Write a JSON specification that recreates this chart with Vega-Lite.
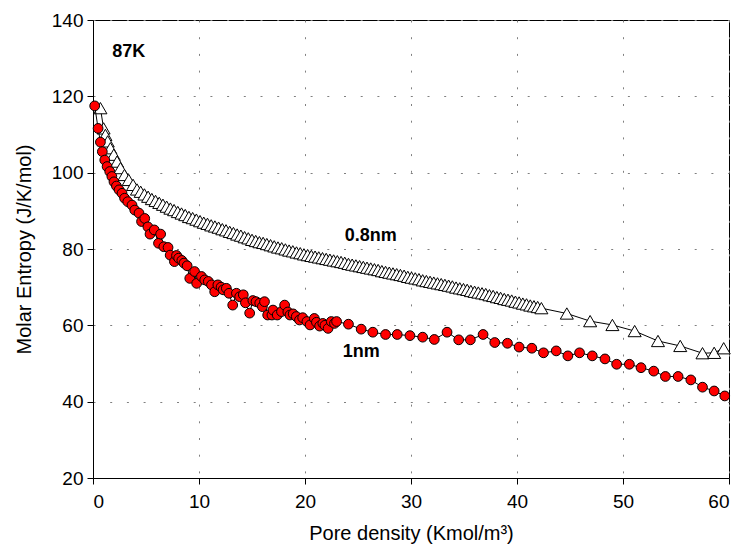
{
  "$schema": "https://vega.github.io/schema/vega-lite/v6.json",
  "width": 636,
  "height": 458,
  "autosize": {"type": "none"},
  "padding": {"left": 93, "top": 20, "right": 10, "bottom": 71},
  "background": "white",
  "config": {
    "font": "Liberation Sans",
    "view": {"stroke": "black", "strokeWidth": 1},
    "axis": {
      "domainColor": "black",
      "tickColor": "black",
      "labelColor": "black",
      "titleColor": "black",
      "labelFont": "Liberation Sans",
      "titleFont": "Liberation Sans",
      "labelFontSize": 19,
      "titleFontSize": 20,
      "titleFontWeight": "normal",
      "tickSize": 6,
      "gridColor": "#808080",
      "gridDash": [2, 14.7],
      "gridWidth": 1
    }
  },
  "datasets": {
    "tri": [
      {"x": 0.7, "y": 116.9}, {"x": 1.0, "y": 111.6}, {"x": 1.17, "y": 109.9}, {"x": 1.39, "y": 108.2}, {"x": 1.64, "y": 106.4},
      {"x": 1.96, "y": 104.7}, {"x": 2.27, "y": 102.9}, {"x": 2.59, "y": 101.2}, {"x": 2.97, "y": 99.4}, {"x": 3.37, "y": 98.1},
      {"x": 3.78, "y": 96.8}, {"x": 4.15, "y": 95.6}, {"x": 4.5, "y": 95.0}, {"x": 4.85, "y": 94.3}, {"x": 5.2, "y": 93.7},
      {"x": 5.55, "y": 93.1}, {"x": 5.9, "y": 92.6}, {"x": 6.25, "y": 92.1}, {"x": 6.6, "y": 91.6}, {"x": 6.95, "y": 91.1},
      {"x": 7.3, "y": 90.6}, {"x": 7.65, "y": 90.2}, {"x": 8.0, "y": 89.7}, {"x": 8.35, "y": 89.3}, {"x": 8.7, "y": 88.9},
      {"x": 9.05, "y": 88.4}, {"x": 9.4, "y": 88.1}, {"x": 9.75, "y": 87.7}, {"x": 10.1, "y": 87.3}, {"x": 10.45, "y": 86.9},
      {"x": 10.8, "y": 86.6}, {"x": 11.15, "y": 86.2}, {"x": 11.5, "y": 85.9}, {"x": 11.85, "y": 85.6}, {"x": 12.2, "y": 85.2},
      {"x": 12.55, "y": 84.9}, {"x": 12.9, "y": 84.5}, {"x": 13.25, "y": 84.2}, {"x": 13.6, "y": 83.8}, {"x": 13.95, "y": 83.5},
      {"x": 14.3, "y": 83.1}, {"x": 14.65, "y": 82.8}, {"x": 15.0, "y": 82.4}, {"x": 15.35, "y": 82.1}, {"x": 15.7, "y": 81.8},
      {"x": 16.05, "y": 81.6}, {"x": 16.4, "y": 81.3}, {"x": 16.75, "y": 81.0}, {"x": 17.1, "y": 80.7}, {"x": 17.45, "y": 80.4},
      {"x": 17.8, "y": 80.2}, {"x": 18.15, "y": 79.9}, {"x": 18.5, "y": 79.6}, {"x": 18.85, "y": 79.4}, {"x": 19.2, "y": 79.1},
      {"x": 19.55, "y": 78.9}, {"x": 19.9, "y": 78.6}, {"x": 20.25, "y": 78.4}, {"x": 20.6, "y": 78.2}, {"x": 20.95, "y": 78.0},
      {"x": 21.3, "y": 77.8}, {"x": 21.65, "y": 77.6}, {"x": 22.0, "y": 77.4}, {"x": 22.35, "y": 77.2}, {"x": 22.7, "y": 77.0},
      {"x": 23.05, "y": 76.8}, {"x": 23.4, "y": 76.6}, {"x": 23.75, "y": 76.4}, {"x": 24.1, "y": 76.1}, {"x": 24.45, "y": 75.9},
      {"x": 24.8, "y": 75.7}, {"x": 25.15, "y": 75.5}, {"x": 25.5, "y": 75.3}, {"x": 25.85, "y": 75.1}, {"x": 26.2, "y": 74.9},
      {"x": 26.55, "y": 74.7}, {"x": 26.9, "y": 74.5}, {"x": 27.25, "y": 74.2}, {"x": 27.6, "y": 74.0}, {"x": 27.95, "y": 73.8},
      {"x": 28.3, "y": 73.6}, {"x": 28.65, "y": 73.4}, {"x": 29.0, "y": 73.2}, {"x": 29.35, "y": 73.0}, {"x": 29.7, "y": 72.7},
      {"x": 30.05, "y": 72.5}, {"x": 30.4, "y": 72.3}, {"x": 30.75, "y": 72.1}, {"x": 31.1, "y": 71.8}, {"x": 31.45, "y": 71.6},
      {"x": 31.8, "y": 71.4}, {"x": 32.15, "y": 71.2}, {"x": 32.5, "y": 71.0}, {"x": 32.85, "y": 70.8}, {"x": 33.2, "y": 70.6},
      {"x": 33.55, "y": 70.4}, {"x": 33.9, "y": 70.2}, {"x": 34.25, "y": 69.9}, {"x": 34.6, "y": 69.7}, {"x": 34.95, "y": 69.5},
      {"x": 35.3, "y": 69.3}, {"x": 35.65, "y": 69.0}, {"x": 36.0, "y": 68.8}, {"x": 36.35, "y": 68.6}, {"x": 36.7, "y": 68.4},
      {"x": 37.05, "y": 68.2}, {"x": 37.4, "y": 67.9}, {"x": 37.75, "y": 67.7}, {"x": 38.1, "y": 67.4}, {"x": 38.45, "y": 67.2},
      {"x": 38.8, "y": 66.9}, {"x": 39.15, "y": 66.7}, {"x": 39.5, "y": 66.5}, {"x": 39.85, "y": 66.2}, {"x": 40.2, "y": 66.0},
      {"x": 40.55, "y": 65.7}, {"x": 40.9, "y": 65.5}, {"x": 41.25, "y": 65.2}, {"x": 41.6, "y": 65.0}, {"x": 41.95, "y": 64.8},
      {"x": 42.3, "y": 64.5}, {"x": 44.7, "y": 63.1}, {"x": 46.9, "y": 61.1}, {"x": 49.0, "y": 60.1}, {"x": 51.1, "y": 58.5},
      {"x": 53.3, "y": 55.9}, {"x": 55.4, "y": 54.6}, {"x": 57.5, "y": 52.7}, {"x": 58.6, "y": 52.8}, {"x": 59.5, "y": 54.0}
    ],
    "circ": [
      {"x": 0.16, "y": 117.5}, {"x": 0.48, "y": 111.6}, {"x": 0.7, "y": 108.0}, {"x": 0.88, "y": 105.5}, {"x": 1.11, "y": 103.3},
      {"x": 1.33, "y": 101.6}, {"x": 1.58, "y": 100.3}, {"x": 1.78, "y": 99.0}, {"x": 1.98, "y": 97.6}, {"x": 2.21, "y": 96.5},
      {"x": 2.46, "y": 95.5}, {"x": 2.74, "y": 94.6}, {"x": 2.98, "y": 93.3}, {"x": 3.28, "y": 92.4}, {"x": 3.68, "y": 91.5},
      {"x": 3.94, "y": 90.2}, {"x": 4.34, "y": 89.4}, {"x": 4.58, "y": 87.2}, {"x": 4.88, "y": 88.0}, {"x": 5.18, "y": 85.8},
      {"x": 5.38, "y": 83.9}, {"x": 5.78, "y": 85.0}, {"x": 6.18, "y": 81.5}, {"x": 6.38, "y": 83.9}, {"x": 6.68, "y": 80.6},
      {"x": 7.08, "y": 80.4}, {"x": 7.28, "y": 78.4}, {"x": 7.68, "y": 76.7}, {"x": 7.88, "y": 78.3}, {"x": 8.08, "y": 77.6},
      {"x": 8.38, "y": 77.0}, {"x": 8.58, "y": 76.3}, {"x": 8.88, "y": 75.6}, {"x": 9.13, "y": 72.3}, {"x": 9.58, "y": 74.1},
      {"x": 9.78, "y": 71.0}, {"x": 10.23, "y": 72.8}, {"x": 10.54, "y": 71.9}, {"x": 10.88, "y": 71.5}, {"x": 11.18, "y": 70.6},
      {"x": 11.48, "y": 68.8}, {"x": 11.78, "y": 70.6}, {"x": 12.08, "y": 70.0}, {"x": 12.28, "y": 69.3}, {"x": 12.58, "y": 69.7},
      {"x": 12.83, "y": 68.4}, {"x": 13.18, "y": 65.3}, {"x": 13.53, "y": 68.4}, {"x": 13.84, "y": 67.5}, {"x": 14.18, "y": 68.0},
      {"x": 14.38, "y": 65.9}, {"x": 14.78, "y": 63.2}, {"x": 15.08, "y": 66.5}, {"x": 15.38, "y": 66.2}, {"x": 15.73, "y": 65.8},
      {"x": 15.98, "y": 64.9}, {"x": 16.18, "y": 66.2}, {"x": 16.48, "y": 62.7}, {"x": 16.88, "y": 62.7}, {"x": 16.98, "y": 64.0},
      {"x": 17.38, "y": 62.7}, {"x": 17.78, "y": 63.6}, {"x": 18.08, "y": 65.3}, {"x": 18.38, "y": 63.5}, {"x": 18.58, "y": 62.7},
      {"x": 18.88, "y": 63.0}, {"x": 19.18, "y": 62.3}, {"x": 19.48, "y": 61.4}, {"x": 19.78, "y": 62.0}, {"x": 20.18, "y": 61.0},
      {"x": 20.48, "y": 60.1}, {"x": 20.88, "y": 61.8}, {"x": 21.08, "y": 60.8}, {"x": 21.38, "y": 59.8}, {"x": 21.68, "y": 60.5},
      {"x": 21.88, "y": 60.0}, {"x": 22.18, "y": 59.2}, {"x": 22.48, "y": 61.0}, {"x": 22.78, "y": 60.5}, {"x": 22.98, "y": 61.0},
      {"x": 24.1, "y": 60.3}, {"x": 25.3, "y": 59.0}, {"x": 26.4, "y": 58.2}, {"x": 27.6, "y": 57.6}, {"x": 28.7, "y": 57.6},
      {"x": 29.9, "y": 57.3}, {"x": 31.1, "y": 56.9}, {"x": 32.2, "y": 56.3}, {"x": 33.4, "y": 58.2}, {"x": 34.5, "y": 56.2},
      {"x": 35.6, "y": 56.2}, {"x": 36.8, "y": 57.6}, {"x": 37.9, "y": 55.5}, {"x": 39.1, "y": 55.3}, {"x": 40.2, "y": 54.3},
      {"x": 41.4, "y": 54.0}, {"x": 42.5, "y": 52.8}, {"x": 43.7, "y": 53.3}, {"x": 44.8, "y": 52.0}, {"x": 45.9, "y": 52.8},
      {"x": 47.1, "y": 52.0}, {"x": 48.3, "y": 51.2}, {"x": 49.4, "y": 49.8}, {"x": 50.6, "y": 49.8}, {"x": 51.7, "y": 48.9},
      {"x": 52.9, "y": 48.0}, {"x": 54.0, "y": 46.6}, {"x": 55.2, "y": 46.6}, {"x": 56.4, "y": 45.7}, {"x": 57.5, "y": 43.8},
      {"x": 58.6, "y": 42.8}, {"x": 59.6, "y": 41.5}
    ],
    "labels": [
      {"label": "87K", "x": 3.37, "y": 131.6},
      {"label": "0.8nm", "x": 26.2, "y": 83.3},
      {"label": "1nm", "x": 25.3, "y": 53.0}
    ]
  },
  "layer": [
    {
      "data": {"name": "tri"},
      "mark": {"type": "line", "color": "black", "strokeWidth": 1},
      "encoding": {
        "x": {"field": "x", "type": "quantitative", "scale": {"domain": [0, 60], "nice": false},
              "axis": {"title": "Pore density (Kmol/m³)", "values": [0, 10, 20, 30, 40, 50, 60], "grid": true, "labelPadding": 8, "titlePadding": 12}},
        "y": {"field": "y", "type": "quantitative", "scale": {"domain": [20, 140], "nice": false},
              "axis": {"title": "Molar Entropy (J/K/mol)", "values": [20, 40, 60, 80, 100, 120, 140], "grid": true, "labelPadding": 4, "titlePadding": 17}}
      }
    },
    {
      "data": {"name": "tri"},
      "mark": {"type": "point", "shape": "triangle-up", "filled": true, "fill": "white", "stroke": "black", "strokeWidth": 1, "size": 170, "opacity": 1},
      "encoding": {
        "x": {"field": "x", "type": "quantitative"},
        "y": {"field": "y", "type": "quantitative"}
      }
    },
    {
      "data": {"name": "circ"},
      "mark": {"type": "line", "color": "black", "strokeWidth": 1},
      "encoding": {
        "x": {"field": "x", "type": "quantitative"},
        "y": {"field": "y", "type": "quantitative"}
      }
    },
    {
      "data": {"name": "circ"},
      "mark": {"type": "point", "shape": "circle", "filled": true, "fill": "#ff0000", "stroke": "black", "strokeWidth": 1, "size": 95, "opacity": 1},
      "encoding": {
        "x": {"field": "x", "type": "quantitative"},
        "y": {"field": "y", "type": "quantitative"}
      }
    },
    {
      "data": {"name": "labels"},
      "mark": {"type": "text", "font": "Liberation Sans", "fontWeight": "bold", "fontSize": 18, "align": "center", "baseline": "middle", "color": "black"},
      "encoding": {
        "x": {"field": "x", "type": "quantitative"},
        "y": {"field": "y", "type": "quantitative"},
        "text": {"field": "label"}
      }
    }
  ]
}
